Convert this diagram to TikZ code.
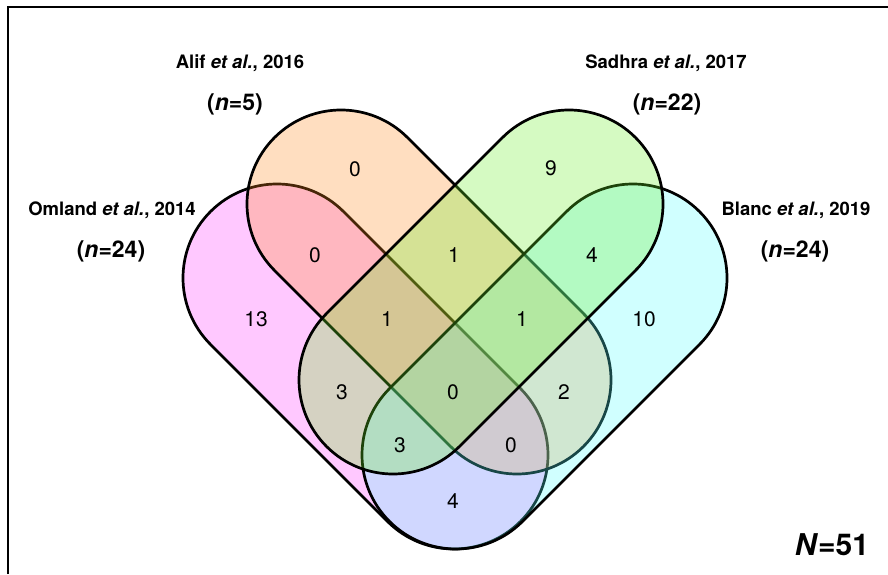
\documentclass[tikz,border=0pt]{standalone}
\usepackage{fontspec}
\setmainfont{TeX Gyre Heros}
\definecolor{cA}{RGB}{255,58,255}
\definecolor{cB}{RGB}{255,140,30}
\definecolor{cC}{RGB}{105,238,38}
\definecolor{cD}{RGB}{88,255,255}
\begin{document}
\begin{tikzpicture}[x=1pt,y=1pt,
  setshape/.style={draw=black, line width=2.7pt, fill opacity=0.28},
  lab/.style={font=\fontsize{18.5}{21}\selectfont\bfseries, inner sep=0pt},
  nlab/.style={font=\fontsize{23}{27}\selectfont\bfseries, inner sep=0pt},
  num/.style={font=\fontsize{21}{25}\selectfont, inner sep=0pt}]
\useasboundingbox (0,0) rectangle (888,574);
\fill[white] (0,0) rectangle (888,574);
\draw[line width=2pt] (8,0) -- (8,567) -- (888,567);
% Omland (A)
\path[setshape, fill=cA, shift={(277,296)}, rotate=-45]
  (0,94) -- (250.3,94) arc[start angle=90,end angle=-90,radius=94]
  -- (0,-94) arc[start angle=270,end angle=90,radius=94] -- cycle;
% Alif (B)
\path[setshape, fill=cB, shift={(341,370)}, rotate=-45]
  (0,94) -- (248.9,94) arc[start angle=90,end angle=-90,radius=94]
  -- (0,-94) arc[start angle=270,end angle=90,radius=94] -- cycle;
% Blanc (D)
\path[setshape, fill=cD, shift={(633,296)}, rotate=-135]
  (0,94) -- (250.3,94) arc[start angle=90,end angle=-90,radius=94]
  -- (0,-94) arc[start angle=270,end angle=90,radius=94] -- cycle;
% Sadhra (C)
\path[setshape, fill=cC, shift={(569,370)}, rotate=-135]
  (0,94) -- (248.9,94) arc[start angle=90,end angle=-90,radius=94]
  -- (0,-94) arc[start angle=270,end angle=90,radius=94] -- cycle;
% set labels
\node[lab] (alif) at (240,511) {Alif \textit{et al.}, 2016};
\node[nlab] (alifn) at (235,470) {(\textit{n}=5)};
\node[lab] (omland) at (112,364) {Omland \textit{et al.}, 2014};
\node[nlab] (omlandn) at (111,323) {(\textit{n}=24)};
\node[lab] (sadhra) at (666,511) {Sadhra \textit{et al.}, 2017};
\node[nlab] (sadhran) at (667,470) {(\textit{n}=22)};
\node[lab] (blanc) at (796,364) {Blanc \textit{et al.}, 2019};
\node[nlab] (blancn) at (795,323) {(\textit{n}=24)};
\node[font=\fontsize{30}{34}\selectfont\bfseries, inner sep=0pt] (total) at (832,29) {\textit{N}=51};
% region counts
\node[num] (rB) at (355,405) {0};
\node[num] (rAB) at (315,319) {0};
\node[num] (rA) at (256,255) {13};
\node[num] (rABC) at (387,255) {1};
\node[num] (rAC) at (342,182) {3};
\node[num] (rACD) at (400,129) {3};
\node[num] (rC) at (551,406) {9};
\node[num] (rBC) at (454,319) {1};
\node[num] (rCD) at (592,319) {4};
\node[num] (rBCD) at (522,255) {1};
\node[num] (rD) at (644,255) {10};
\node[num] (rABCD) at (453,182) {0};
\node[num] (rBD) at (564,182) {2};
\node[num] (rABD) at (511,129) {0};
\node[num] (rAD) at (453,73) {4};
\end{tikzpicture}
\end{document}
